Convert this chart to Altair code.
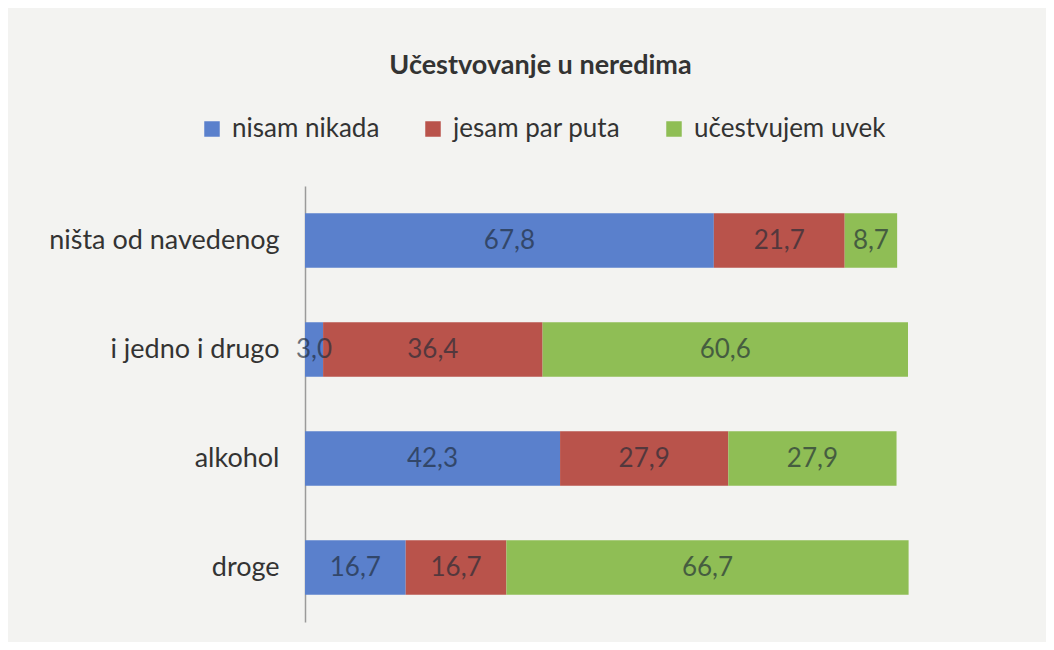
import altair as alt
import pandas as pd

categories = ["ništa od navedenog", "i jedno i drugo", "alkohol", "droge"]
series = ["nisam nikada", "jesam par puta", "učestvujem uvek"]
nisam_nikada = [67.8, 3.0, 42.3, 16.7]
jesam_par_puta = [21.7, 36.4, 27.9, 16.7]
ucestvujem_uvek = [8.7, 60.6, 27.9, 66.7]
colors = ["#5a80cc", "#b9534b", "#8fbe55"]

rows = []
for i, c in enumerate(categories):
    for j, (s, vals) in enumerate(zip(series, [nisam_nikada, jesam_par_puta, ucestvujem_uvek])):
        rows.append({"kategorija": c, "odgovor": s, "vrednost": vals[i], "red": j})
df = pd.DataFrame(rows)

base = alt.Chart(df).transform_stack(
    stack="vrednost",
    as_=["x0", "x1"],
    groupby=["kategorija"],
    sort=[alt.SortField("red", order="ascending")],
).transform_calculate(
    mid="(datum.x0 + datum.x1) / 2",
    label="replace(format(datum.vrednost, '.1f'), '.', ',')",
)

y_enc = alt.Y(
    "kategorija:N",
    sort=categories,
    title=None,
    scale=alt.Scale(paddingInner=0.5, paddingOuter=0.25),
    axis=alt.Axis(
        domainColor="#9a9a9a",
        domainWidth=1.5,
        ticks=False,
        grid=False,
        labelFont="Lato",
        labelFontSize=27,
        labelColor="#333333",
        labelPadding=26,
        labelLimit=400,
    ),
)
x_scale = alt.Scale(domain=[0, 100], nice=False)

bars = base.mark_bar().encode(
    x=alt.X("x0:Q", scale=x_scale, axis=None),
    x2="x1:Q",
    y=y_enc,
    color=alt.Color(
        "odgovor:N",
        sort=series,
        scale=alt.Scale(domain=series, range=colors),
        legend=alt.Legend(
            orient="none",
            legendX=-106,
            legendY=-70,
            direction="horizontal",
            title=None,
            symbolType="square",
            symbolSize=240,
            symbolStrokeWidth=0,
            labelFont="Lato",
            labelFontSize=26,
            labelColor="#333333",
            labelOffset=7,
            labelLimit=400,
            columnPadding=40,
        ),
    ),
)

text = base.mark_text(font="Lato", fontSize=26, color="#1e2a36", opacity=0.65).encode(
    x=alt.X("mid:Q", scale=x_scale, axis=None),
    y=alt.Y("kategorija:N", sort=categories),
    text="label:N",
)

chart = (
    alt.layer(bars, text)
    .properties(
        width=603,
        height=436,
        autosize=alt.AutoSizeParams(type="none"),
        padding={"left": 297, "top": 178, "right": 138, "bottom": 20},
        background="#f3f3f1",
        title=alt.TitleParams(
            "Učestvovanje u neredima",
            font="Lato",
            fontSize=27,
            fontWeight="bold",
            color="#333333",
            anchor="middle",
            dx=-66,
            offset=36,
        ),
    )
    .configure_view(stroke=None)
)

chart.save("out.html", embed_options={"renderer": "svg", "actions": False})
